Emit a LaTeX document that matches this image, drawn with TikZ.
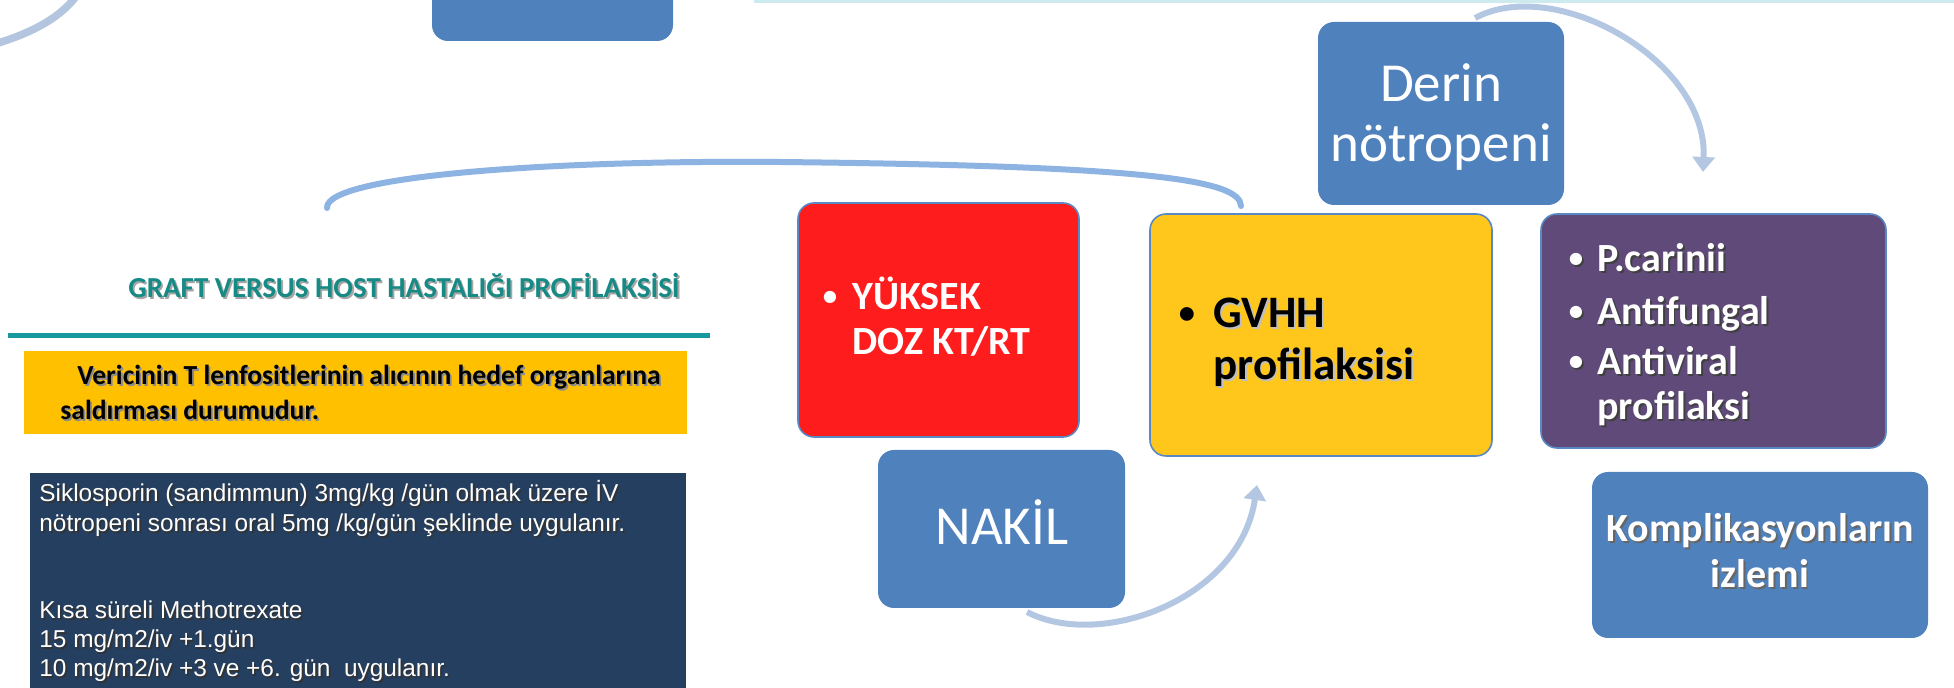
\documentclass[tikz,border=0pt]{standalone}
\usepackage{fontspec}
\setmainfont{Carlito}
\newfontfamily\arialf{Liberation Sans}
\usetikzlibrary{arrows.meta,fit}
\definecolor{sablue}{HTML}{4F81BD}
\definecolor{arcpale}{HTML}{B4C5E0}
\definecolor{arrowc}{HTML}{B4C7E2}
\definecolor{bigarcc}{HTML}{8DB3E2}
\definecolor{toplinec}{HTML}{CDEBEF}
\definecolor{titlec}{HTML}{168A84}
\definecolor{tealline}{HTML}{1899A0}
\definecolor{ygold}{HTML}{FFC000}
\definecolor{navyc}{HTML}{243F60}
\definecolor{redc}{HTML}{FE1C1C}
\definecolor{gvhhc}{HTML}{FFC61C}
\definecolor{purplec}{HTML}{5F4A7A}
\definecolor{boxline}{HTML}{5A88C4}
\newcommand\shtext[2]{\makebox[0pt][l]{\hspace{0.9pt}\raisebox{-0.9pt}{\textcolor{#1}{#2}}}#2}
\newcommand\bul{\raisebox{0.1em}{\scalebox{0.72}{•}}}
\tikzset{
  bx/.style={rectangle, rounded corners=8pt, inner sep=0pt},
  bxo/.style={bx, draw=boxline, line width=0.8pt},
  txt/.style={inner sep=0pt, anchor=base west},
  ctxt/.style={inner sep=0pt, anchor=base},
  flowarrow/.style={draw=arrowc, line width=3pt, -{Triangle[length=7.5pt,width=11pt]}},
  bigarc/.style={draw=bigarcc, line width=3pt, line cap=round},
}
\begin{document}
\begin{tikzpicture}[x=0.5pt,y=-0.5pt]
\useasboundingbox (0,0) rectangle (1954,688);
\clip (0,0) rectangle (1954,688);
% top fragments
\draw[draw=arcpale, line width=3.8pt] (-5,44) .. controls (35,32) and (62,16) .. (77,-5);
\node[bx, fill=sablue, fit={(432,-30) (673,41)}] (topbox) {};
\fill[toplinec] (754,0) rectangle (1954,3);
% big bracket arc
\coordinate (arcL) at (327,208);
\coordinate (arcR) at (1241,206);
\draw[bigarc] (arcL) .. controls (325,175) and (560,160) .. (780,162) .. controls (1150,166) and (1240,180) .. (arcR);
% left panel
\node[txt, anchor=base east, font=\bfseries\fontsize{14.5pt}{17pt}\selectfont, text=titlec] (title) at (680,298) {\shtext{black!35}{GRAFT VERSUS HOST HASTALIĞI PROFİLAKSİSİ}};
\fill[tealline] (8,333) rectangle (710,338);
\node[rectangle, inner sep=0pt, fill=ygold, fit={(24,351) (687,434)}] (defbox) {};
\node[txt, font=\bfseries\fontsize{13.8pt}{16pt}\selectfont] (def1) at (77,385) {\shtext{black!45}{Vericinin T lenfositlerinin alıcının hedef organlarına}};
\node[txt, font=\bfseries\fontsize{13.8pt}{16pt}\selectfont] (def2) at (60,420) {\shtext{black!45}{saldırması durumudur.}};
\node[rectangle, inner sep=0pt, fill=navyc, fit={(30,473) (686,700)}] (navybox) {};
\tikzset{navt/.style={txt, text=white, font=\arialf\fontsize{12.2pt}{14pt}\selectfont}}
\node[navt] (n1) at (39,502) {\shtext{black!80}{Siklosporin (sandimmun) 3mg/kg /gün olmak üzere İV}};
\node[navt] (n2) at (39,532) {\shtext{black!80}{nötropeni sonrası oral 5mg /kg/gün şeklinde uygulanır.}};
\node[navt] (n3) at (39,619) {\shtext{black!80}{Kısa süreli Methotrexate}};
\node[navt] (n4) at (39,648) {\shtext{black!80}{15 mg/m2/iv +1.gün}};
\node[navt] (n5) at (39,677) {\shtext{black!80}{10 mg/m2/iv +3 ve +6. gün\ \ uygulanır.}};
% right diagram boxes
\node[bxo, fill=redc, fit={(798,203) (1079,437)}] (kt) {};
\node[bxo, fill=gvhhc, fit={(1150,214) (1492,456)}] (gvhh) {};
\node[bx, fill=sablue, fit={(1318,22) (1564,205)}] (derin) {};
\node[bxo, fill=purplec, fit={(1541,214) (1886,448)}] (proph) {};
\node[bx, fill=sablue, fit={(1592,472) (1928,638)}] (komp) {};
\node[bx, fill=sablue, fit={(878,450) (1125,608)}] (nakil) {};
% texts in boxes
\tikzset{redt/.style={text=white, font=\bfseries\fontsize{20pt}{24pt}\selectfont}}
\node[ctxt, redt] (ktb) at (830,310) {\bul};
\node[txt, redt] (kt1) at (852,310) {YÜKSEK};
\node[txt, redt] (kt2) at (852,355) {DOZ KT/RT};
\tikzset{gvt/.style={text=black, font=\bfseries\fontsize{22.5pt}{26pt}\selectfont}}
\node[ctxt, gvt] (gvb) at (1187,328) {\bul};
\node[txt, gvt] (gv1) at (1213,328) {\shtext{black!25}{GVHH}};
\node[txt, gvt] (gv2) at (1213,380) {\shtext{black!25}{profilaksisi}};
\tikzset{blt/.style={ctxt, text=white, font=\fontsize{27.5pt}{32pt}\selectfont}}
\node[blt] (de1) at (1441,102) {Derin};
\node[blt] (de2) at (1441,162) {nötropeni};
\node[blt] (na1) at (1002,545) {NAKİL};
\tikzset{prt/.style={text=white, font=\bfseries\fontsize{20pt}{24pt}\selectfont}}
\node[ctxt, prt] (pb1) at (1576,272) {\shtext{black!75}{\bul}};
\node[ctxt, prt] (pb2) at (1576,325) {\shtext{black!75}{\bul}};
\node[ctxt, prt] (pb3) at (1576,375) {\shtext{black!75}{\bul}};
\node[txt, prt] (p1) at (1597,272) {\shtext{black!75}{P.carinii}};
\node[txt, prt] (p2) at (1597,325) {\shtext{black!75}{Antifungal}};
\node[txt, prt] (p3) at (1597,375) {\shtext{black!75}{Antiviral}};
\node[txt, prt] (p4) at (1597,420) {\shtext{black!75}{profilaksi}};
\node[ctxt, prt] (k1) at (1760,542) {\shtext{black!60}{Komplikasyonların}};
\node[ctxt, prt] (k2) at (1760,588) {\shtext{black!60}{izlemi}};
% arrows
\coordinate (a1s) at (1027,612);
\coordinate (a1e) at (1257,485);
\draw[flowarrow] (a1s) .. controls (1100,650) and (1240,600) .. (a1e);
\coordinate (a2s) at (1475,18);
\coordinate (a2e) at (1703,172);
\draw[flowarrow] (a2s) .. controls (1555,-25) and (1708,60) .. (a2e);
\end{tikzpicture}
\end{document}
